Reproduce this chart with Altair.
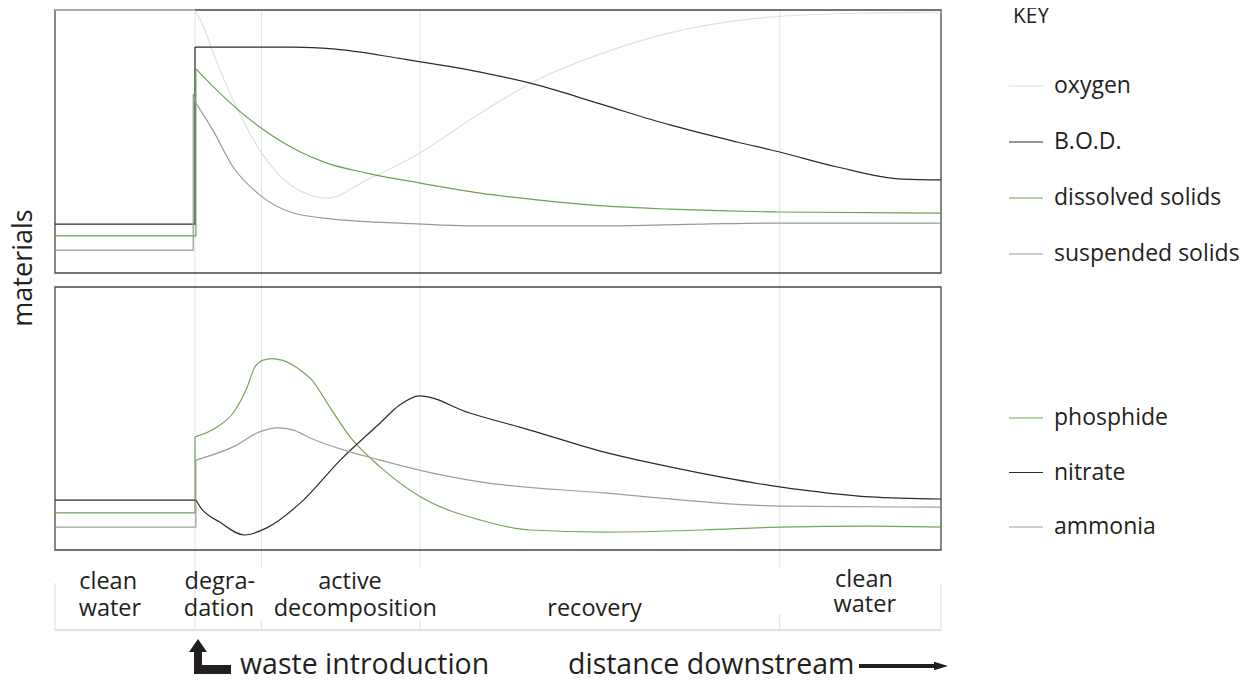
import altair as alt
import pandas as pd

# ---------------- data (x = distance downstream 0..100, y = relative amount 0..100) ----------------
WASTE_D = 15.8                      # waste introduction
ZONE_EDGES = [23.3, 41.2, 81.8]     # end of degradation / active decomposition / recovery

TOP_SERIES = ["oxygen", "B.O.D.", "dissolved solids", "suspended solids"]
TOP_COLORS = ["#e0e0e0", "#2b2b2b", "#6e9f55", "#999999"]
BOT_SERIES = ["phosphide", "nitrate", "ammonia"]
BOT_COLORS = ["#76a45d", "#2b2b2b", "#9d9d9d"]

OXYGEN_D = [0, 15.7, 16.4, 18.3, 20.1, 23.1, 26.9, 30.8, 35.2, 41.2, 46.8, 54.4, 61.9, 69.4, 80.7, 92.0, 100]
OXYGEN_V = [100, 100, 96.2, 79.8, 65.8, 46.8, 32.7, 28.5, 35.4, 45.6, 58.2, 73.4, 83.7, 91.3, 97.3, 98.9, 99.2]
OXYGEN_K = 1

BOD_D = [0, 15.8, 15.8, 23.1, 26.9, 31.4, 38.9, 48.0, 54.4, 61.9, 69.4, 77.0, 81.8, 88.3, 95.7, 100]
BOD_V = [18.6, 18.6, 85.9, 85.9, 85.9, 85.2, 81.6, 76.4, 71.5, 63.9, 56.3, 49.8, 46.0, 40.3, 35.7, 35.4]
BOD_K = 2

DISS_D = [0, 15.9, 15.9, 18.6, 23.1, 27.7, 30.7, 35.2, 41.2, 48.0, 54.4, 61.9, 69.4, 81.8, 100]
DISS_V = [14.1, 14.1, 77.6, 68.4, 55.5, 46.0, 41.8, 38.0, 34.2, 30.4, 27.8, 25.5, 24.3, 23.2, 22.8]
DISS_K = 2

SUSP_D = [0, 15.6, 15.6, 15.9, 17.8, 20.1, 23.1, 26.9, 31.4, 38.9, 48.0, 61.9, 73.1, 81.8, 100]
SUSP_V = [8.7, 8.7, 68.1, 64.6, 54.4, 40.3, 29.7, 22.8, 20.5, 19.0, 17.9, 17.9, 18.6, 19.0, 19.0]
SUSP_K = 3

PHOS_D = [0, 15.8, 15.8, 18.3, 20.1, 21.7, 22.5, 23.5, 24.5, 25.6, 27.7, 29.0, 31.0, 33.3, 36.7, 41.1,
          48.0, 53.6, 61.9, 73.1, 81.8, 92.0, 100]
PHOS_V = [14.1, 14.1, 43.0, 46.8, 52.1, 62.0, 69.2, 72.2, 72.8, 72.2, 68.4, 64.6, 54.4, 43.0, 31.6, 20.5,
          11.4, 7.6, 6.8, 7.6, 8.7, 9.1, 8.7]
PHOS_K = 2

NITR_D = [0, 15.9, 16.4, 18.6, 21.4, 23.9, 27.7, 32.2, 36.7, 38.9, 41.1, 46.8, 53.6, 61.9, 69.4, 81.8, 92.0, 100]
NITR_V = [19.0, 19.0, 16.3, 10.6, 5.7, 8.4, 17.9, 34.2, 48.3, 55.1, 58.6, 52.1, 45.6, 37.3, 31.6, 24.0, 20.2, 19.4]
NITR_K = 1

AMMO_D = [0, 15.9, 15.9, 20.1, 23.1, 25.1, 26.9, 28.8, 33.3, 36.7, 41.1, 48.0, 61.9, 81.8, 100]
AMMO_V = [8.7, 8.7, 34.2, 39.2, 44.9, 46.4, 45.6, 42.6, 37.3, 34.2, 30.4, 25.9, 21.7, 16.7, 16.3]
AMMO_K = 2

ZONE_ROW1 = ["clean", "degra-", "active"]
ZONE_ROW1_D = [6.0, 18.6, 33.3]
ZONE_ROW2 = ["water", "dation", "decomposition", "recovery"]
ZONE_ROW2_D = [6.2, 18.5, 33.9, 60.9]
ZONE_RIGHT = ["clean", "water"]
ZONE_RIGHT_D = [91.3, 91.4]

FONT = "Open Sans"
INK = "#231f20"


def frames(name, d, v, k):
    pts = list(zip(d, v))
    pre = [{"series": name, "d": a, "v": b, "i": i} for i, (a, b) in enumerate(pts[:k + 1])]
    post = [{"series": name, "d": a, "v": b, "i": i} for i, (a, b) in enumerate(pts[k:])]
    return pre, post


def build(defs):
    pre_all, post_all = [], []
    for name, d, v, k in defs:
        p, q = frames(name, d, v, k)
        pre_all += p
        post_all += q
    return pd.DataFrame(pre_all), pd.DataFrame(post_all)


top_pre, top_post = build([
    ("oxygen", OXYGEN_D, OXYGEN_V, OXYGEN_K),
    ("B.O.D.", BOD_D, BOD_V, BOD_K),
    ("dissolved solids", DISS_D, DISS_V, DISS_K),
    ("suspended solids", SUSP_D, SUSP_V, SUSP_K),
])
bot_pre, bot_post = build([
    ("phosphide", PHOS_D, PHOS_V, PHOS_K),
    ("nitrate", NITR_D, NITR_V, NITR_K),
    ("ammonia", AMMO_D, AMMO_V, AMMO_K),
])

# ---------------- scales ----------------
XS = alt.Scale(domain=[0, 100], range=[47, 933], nice=False, zero=False)
TOP_Y = alt.Scale(domain=[0, 100], range=[265, 2], nice=False, zero=False)
BOT_Y = alt.Scale(domain=[0, 100], range=[542, 279], nice=False, zero=False)
TOP_C = alt.Scale(domain=TOP_SERIES, range=TOP_COLORS)
BOT_C = alt.Scale(domain=BOT_SERIES, range=BOT_COLORS)

one = pd.DataFrame({"k": [0]})
box = pd.DataFrame({"d0": [0], "d1": [100], "v0": [0], "v1": [100]})

layers = []

# grid / zone dividers
layers.append(alt.Chart(pd.DataFrame({"d": [WASTE_D]})).mark_rule(color="#e4e4e4", strokeWidth=1).encode(
    x=alt.X("d:Q", scale=XS, axis=None), y=alt.value(2), y2=alt.value(622)))
layers.append(alt.Chart(pd.DataFrame({"d": ZONE_EDGES})).mark_rule(color="#e4e4e4", strokeWidth=1).encode(
    x=alt.X("d:Q", scale=XS, axis=None), y=alt.value(2), y2=alt.value(559)))

# zone strip
layers.append(alt.Chart(box).mark_rule(color="#d6d6d6", strokeWidth=1.5).encode(
    x=alt.X("d0:Q", scale=XS, axis=None), x2="d1:Q", y=alt.value(622)))
layers.append(alt.Chart(pd.DataFrame({"d": [0, 100]})).mark_rule(color="#dcdcdc", strokeWidth=1).encode(
    x=alt.X("d:Q", scale=XS, axis=None), y=alt.value(575), y2=alt.value(622)))
layers.append(alt.Chart(pd.DataFrame({"d": ZONE_EDGES[:2]})).mark_rule(color="#dcdcdc", strokeWidth=1).encode(
    x=alt.X("d:Q", scale=XS, axis=None), y=alt.value(613), y2=alt.value(622)))
layers.append(alt.Chart(pd.DataFrame({"d": ZONE_EDGES[2:]})).mark_rule(color="#dcdcdc", strokeWidth=1).encode(
    x=alt.X("d:Q", scale=XS, axis=None), y=alt.value(606), y2=alt.value(622)))

# panel boxes
for ys in (TOP_Y, BOT_Y):
    layers.append(alt.Chart(box).mark_rect(fillOpacity=0, stroke="#474747", strokeWidth=1.3).encode(
        x=alt.X("d0:Q", scale=XS, axis=None), x2="d1:Q",
        y=alt.Y("v0:Q", scale=ys, axis=None), y2="v1:Q"))

# series lines
for df, ys, cs, interp in ((top_pre, TOP_Y, TOP_C, "linear"), (top_post, TOP_Y, TOP_C, "monotone"),
                           (bot_pre, BOT_Y, BOT_C, "linear"), (bot_post, BOT_Y, BOT_C, "monotone")):
    layers.append(alt.Chart(df).mark_line(interpolate=interp, strokeWidth=1.2).encode(
        x=alt.X("d:Q", scale=XS, axis=None),
        y=alt.Y("v:Q", scale=ys, axis=None),
        color=alt.Color("series:N", scale=cs, legend=None),
        order="i:Q"))

# key
layers.append(alt.Chart(one).mark_text(text="KEY", align="left", baseline="alphabetic", fontSize=21,
                                       font=FONT, color=INK).encode(x=alt.value(1005), y=alt.value(15)))
for names, cs, rng in ((TOP_SERIES, TOP_C, [78, 246]), (BOT_SERIES, BOT_C, [410, 519])):
    ls = alt.Scale(type="point", domain=names, range=rng, padding=0)
    kdf = pd.DataFrame({"series": names})
    layers.append(alt.Chart(kdf).mark_rule(strokeWidth=1.2).encode(
        x=alt.value(1001), x2=alt.value(1035),
        y=alt.Y("series:N", scale=ls, axis=None),
        color=alt.Color("series:N", scale=cs, legend=None)))
    layers.append(alt.Chart(kdf).mark_text(align="left", baseline="middle", fontSize=23, font=FONT,
                                           color=INK).encode(
        x=alt.value(1046), y=alt.Y("series:N", scale=ls, axis=None), text="series:N"))

# y title
layers.append(alt.Chart(one).mark_text(text="materials", angle=270, align="center", baseline="alphabetic",
                                       fontSize=27, font=FONT, color=INK).encode(
    x=alt.value(24), y=alt.value(260)))

# zone labels
for labels, ds, ypix in ((ZONE_ROW1, ZONE_ROW1_D, 581), (ZONE_ROW2, ZONE_ROW2_D, 608),
                         (ZONE_RIGHT[:1], ZONE_RIGHT_D[:1], 579), (ZONE_RIGHT[1:], ZONE_RIGHT_D[1:], 604)):
    layers.append(alt.Chart(pd.DataFrame({"label": labels, "d": ds})).mark_text(
        align="center", baseline="alphabetic", fontSize=23.5, font=FONT, color=INK).encode(
        x=alt.X("d:Q", scale=XS, axis=None), y=alt.value(ypix), text="label:N"))

# bottom annotations
layers.append(alt.Chart(one).mark_text(text="waste introduction", align="left", baseline="alphabetic",
                                       fontSize=28.5, font=FONT, color=INK).encode(
    x=alt.value(232), y=alt.value(666)))
layers.append(alt.Chart(one).mark_text(text="distance downstream", align="left", baseline="alphabetic",
                                       fontSize=28.5, font=FONT, color=INK).encode(
    x=alt.value(560), y=alt.value(666)))
# L-shaped arrow
layers.append(alt.Chart(one).mark_rule(color=INK, strokeWidth=8, strokeCap="butt").encode(
    x=alt.value(190), y=alt.value(644), y2=alt.value(666)))
layers.append(alt.Chart(one).mark_rule(color=INK, strokeWidth=9, strokeCap="butt").encode(
    x=alt.value(186), x2=alt.value(223), y=alt.value(661.5)))
layers.append(alt.Chart(one).mark_point(shape="M-1,0.72L1,0.72L0,-0.72Z", size=324, filled=True,
                                        color=INK, opacity=1, strokeWidth=0).encode(
    x=alt.value(190), y=alt.value(637.5)))
# downstream arrow
layers.append(alt.Chart(one).mark_rule(color=INK, strokeWidth=4, strokeCap="butt").encode(
    x=alt.value(851), x2=alt.value(929), y=alt.value(658)))
layers.append(alt.Chart(one).mark_point(shape="M-1,-0.6L1,0L-1,0.6Z", size=196, filled=True,
                                        color=INK, opacity=1, strokeWidth=0).encode(
    x=alt.value(933), y=alt.value(658)))

chart = alt.layer(*layers).resolve_scale(y="independent", color="independent").properties(
    width=1238, height=674, padding=0, autosize=alt.AutoSizeParams(type="none")
).configure_view(strokeWidth=0)

chart.save("out.html", embed_options={"renderer": "svg", "actions": False})
